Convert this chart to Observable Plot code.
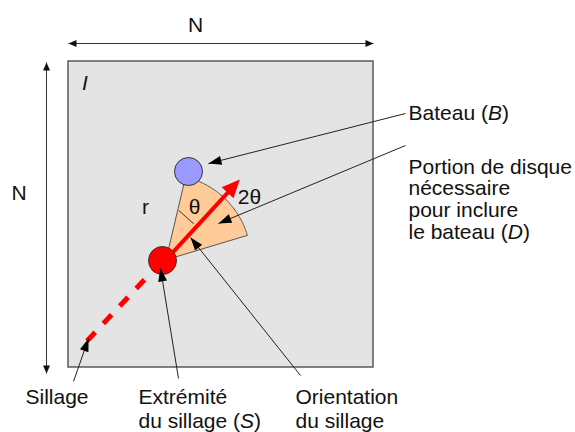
<!DOCTYPE html>
<html><head><meta charset="utf-8">
<script src="https://cdn.jsdelivr.net/npm/d3@7"></script>
<script src="https://cdn.jsdelivr.net/npm/@observablehq/plot@0.6"></script>
<style>html,body{margin:0;padding:0;background:#fff} svg{display:block}</style>
</head><body><div id="chart"></div>
<script>
// ---- Diagram data (pixel coordinate space of the 575×432 figure) ----
// Image I (N × N)
const frame = [{x1: 68, y1: 61, x2: 373, y2: 367}];
// Double-headed dimension arrows
const dimensions = [
  {x1: 68, y1: 43, x2: 373, y2: 43},
  {x1: 46, y1: 62, x2: 46, y2: 373}
];
const dimensionLabels = [
  {text: "N", x: 195, y: 17},
  {text: "N", x: 18.5, y: 185}
];
const imageLabel = [{text: "I", x: 84.5, y: 75}];
// Wake (dashed red segment) and its end S
const wake = [{x1: 86.5, y1: 340.5, x2: 160, y2: 262}];
const wakeEnd = [{x: 162, y: 260}];
// Boat B
const boat = [{x: 188, y: 171}];
// Disc portion D : centre, radius, angular extent (degrees, counter-clockwise)
const sectorCentre = {cx: 165.5, cy: 259.3};
const sectorRadius = 85;
const sectorAngles = [16.7, 76.7];
// Wake orientation (red arrow)
const orientation = [{x1: 165.5, y1: 259.3, x2: 239.3, y2: 179}];
// θ marker
const thetaMarker = [{x1: 178.3, y1: 210, x2: 193.3, y2: 223.3}];
// Label pointers (start near text, tip at object)
const pointers = [
  {x1: 405, y1: 113, x2: 208, y2: 163},
  {x1: 405, y1: 145, x2: 218, y2: 223},
  {x1: 300, y1: 375, x2: 190, y2: 237},
  {x1: 178, y1: 378, x2: 160, y2: 268},
  {x1: 73, y1: 381, x2: 88, y2: 338}
];
const rightLabels = [
  {text: "Bateau (B)", x: 408, y: 104},
  {text: "Portion de disque\nnécessaire\npour inclure\nle bateau (D)", x: 408, y: 158}
];
const bottomLabels = [
  {text: "Sillage", x: 25, y: 387},
  {text: "Extrémité\ndu sillage (S)", x: 138, y: 387},
  {text: "Orientation\ndu sillage", x: 295, y: 387}
];
const symbolLabels = [
  {text: "r", x: 145, y: 207},
  {text: "θ", x: 194, y: 207},
  {text: "2θ", x: 249, y: 197}
];

// ---- helpers ----
function head(d, L, W, id, atStart) {
  let x1 = d.x1, y1 = d.y1, x2 = d.x2, y2 = d.y2;
  if (atStart) { [x1, y1, x2, y2] = [x2, y2, x1, y1]; }
  const dx = x2 - x1, dy = y2 - y1, len = Math.hypot(dx, dy);
  const ux = dx / len, uy = dy / len;
  const bx = x2 - ux * L, by = y2 - uy * L;
  return [
    {id, x: x2, y: y2},
    {id, x: bx - uy * W / 2, y: by + ux * W / 2},
    {id, x: bx + uy * W / 2, y: by - ux * W / 2},
    {id, x: x2, y: y2}
  ];
}
const dimHeads = dimensions.flatMap((d, i) => [...head(d, 8, 7, "a" + i, false), ...head(d, 8, 7, "b" + i, true)]);
const pointerHeads = pointers.flatMap((d, i) => head(d, 13, 9, "p" + i, false));
const orientHead = orientation.flatMap((d, i) => head(d, 18, 16, "o" + i, false));
const orientShaft = orientation.map(d => {
  const dx = d.x2 - d.x1, dy = d.y2 - d.y1, len = Math.hypot(dx, dy);
  return {x1: d.x1, y1: d.y1, x2: d.x2 - dx / len * 15, y2: d.y2 - dy / len * 15};
});
const sectorPts = [{x: sectorCentre.cx, y: sectorCentre.cy}]
  .concat(d3.range(sectorAngles[0], sectorAngles[1] + 0.001, 1).map(a => ({
    x: sectorCentre.cx + sectorRadius * Math.cos(a * Math.PI / 180),
    y: sectorCentre.cy - sectorRadius * Math.sin(a * Math.PI / 180)
  })))
  .concat([{x: sectorCentre.cx, y: sectorCentre.cy}]);

const font = 21;
const svg = Plot.plot({
  width: 575,
  height: 432,
  margin: 0,
  x: {domain: [0, 575], range: [0, 575], axis: null},
  y: {domain: [0, 432], range: [0, 432], axis: null},
  style: {fontFamily: "'Liberation Sans', Arial, sans-serif", background: "#fff", color: "#111"},
  marks: [
    Plot.rect(frame, {x1: "x1", y1: "y1", x2: "x2", y2: "y2", fill: "#e4e4e4", stroke: "#5a5a5a", strokeWidth: 1.5}),
    Plot.link(dimensions, {x1: "x1", y1: "y1", x2: "x2", y2: "y2", stroke: "#333", strokeWidth: 1}),
    Plot.line(dimHeads, {x: "x", y: "y", z: "id", fill: "#111", stroke: "none"}),
    Plot.link(wake, {x1: "x1", y1: "y1", x2: "x2", y2: "y2", stroke: "#ff0000", strokeWidth: 5, strokeDasharray: "12,12", strokeLinecap: "butt"}),
    Plot.line(sectorPts, {x: "x", y: "y", fill: "#ffcc99", stroke: "#555", strokeWidth: 1}),
    Plot.link(thetaMarker, {x1: "x1", y1: "y1", x2: "x2", y2: "y2", stroke: "#333", strokeWidth: 1}),
    Plot.link(orientShaft, {x1: "x1", y1: "y1", x2: "x2", y2: "y2", stroke: "#ff0000", strokeWidth: 4}),
    Plot.line(orientHead, {x: "x", y: "y", z: "id", fill: "#ff0000", stroke: "none"}),
    Plot.dot(boat, {x: "x", y: "y", r: 14, fill: "#9999ff", stroke: "#333", strokeWidth: 1}),
    Plot.dot(wakeEnd, {x: "x", y: "y", r: 14, fill: "#ff0000", stroke: "#333", strokeWidth: 1}),
    Plot.link(pointers, {x1: "x1", y1: "y1", x2: "x2", y2: "y2", stroke: "#222", strokeWidth: 1}),
    Plot.line(pointerHeads, {x: "x", y: "y", z: "id", fill: "#000", stroke: "none"}),
    Plot.text(dimensionLabels, {x: "x", y: "y", text: "text", textAnchor: "middle", lineAnchor: "top", fontSize: font, fill: "#111"}),
    Plot.text(imageLabel, {x: "x", y: "y", text: "text", textAnchor: "middle", lineAnchor: "top", fontSize: font, fontStyle: "italic", fill: "#111"}),
    Plot.text(symbolLabels, {x: "x", y: "y", text: "text", textAnchor: "middle", lineAnchor: "middle", fontSize: font, fill: "#111"}),
    Plot.text(rightLabels, {x: "x", y: "y", text: "text", textAnchor: "start", lineAnchor: "top", fontSize: font, lineHeight: 1.03, fill: "#111"}),
    Plot.text(bottomLabels, {x: "x", y: "y", text: "text", textAnchor: "start", lineAnchor: "top", fontSize: font, lineHeight: 1.13, fill: "#111"})
  ]
});

// Italicise the single-letter symbols in parentheses: (B), (D), (S)
svg.querySelectorAll("text, tspan").forEach(el => {
  if (el.children.length) return;
  const t = el.textContent;
  const m = t.match(/^(.*\()([BDS])(\).*)$/);
  if (!m) return;
  el.textContent = "";
  el.appendChild(document.createTextNode(m[1]));
  const it = document.createElementNS("http://www.w3.org/2000/svg", "tspan");
  it.setAttribute("font-style", "italic");
  it.textContent = m[2];
  el.appendChild(it);
  el.appendChild(document.createTextNode(m[3]));
});

document.getElementById("chart").appendChild(svg);
</script>
</body></html>
